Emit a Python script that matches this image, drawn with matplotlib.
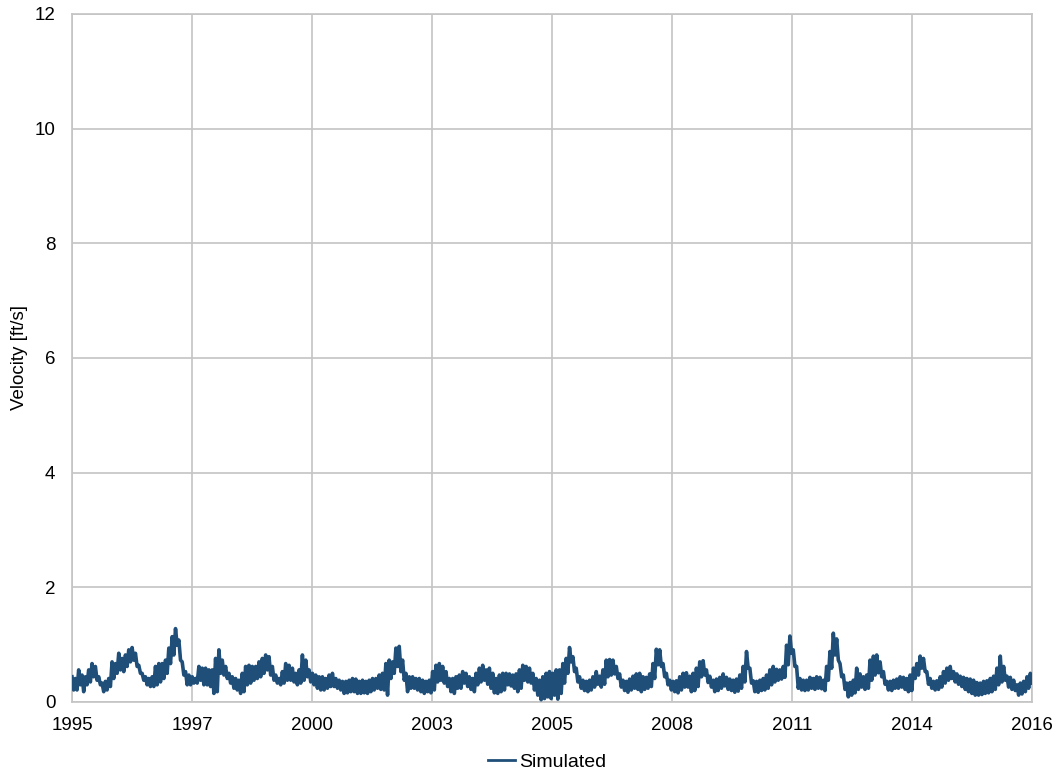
import numpy as np
import matplotlib
matplotlib.use("Agg")
import matplotlib.pyplot as plt

# Simulated velocity [ft/s], regular time steps from 1995 to 2016
velocity = [
    0.44, 0.21, 0.41, 0.21, 0.56, 0.30, 0.47, 0.18, 0.44, 0.30, 0.56, 0.35, 0.67, 0.44, 0.62, 0.38, 0.44, 0.30, 0.33, 0.18,
    0.36, 0.21, 0.41, 0.27, 0.70, 0.41, 0.67, 0.50, 0.85, 0.56, 0.76, 0.53, 0.82, 0.62, 0.91, 0.70, 0.95, 0.73, 0.85, 0.62,
    0.64, 0.50, 0.50, 0.38, 0.44, 0.30, 0.41, 0.27, 0.44, 0.27, 0.62, 0.30, 0.67, 0.35, 0.67, 0.41, 0.73, 0.50, 0.94, 0.67,
    1.14, 0.82, 1.28, 0.99, 1.08, 0.73, 0.70, 0.47, 0.53, 0.30, 0.47, 0.30, 0.44, 0.33, 0.41, 0.33, 0.62, 0.38, 0.59, 0.30,
    0.59, 0.30, 0.56, 0.27, 0.56, 0.15, 0.76, 0.18, 0.91, 0.50, 0.73, 0.47, 0.62, 0.41, 0.50, 0.33, 0.44, 0.24, 0.41, 0.21,
    0.38, 0.15, 0.50, 0.18, 0.62, 0.30, 0.64, 0.33, 0.62, 0.38, 0.62, 0.41, 0.70, 0.44, 0.76, 0.50, 0.82, 0.56, 0.79, 0.47,
    0.62, 0.38, 0.47, 0.33, 0.41, 0.30, 0.53, 0.33, 0.67, 0.38, 0.64, 0.38, 0.59, 0.35, 0.50, 0.30, 0.56, 0.33, 0.82, 0.38,
    0.73, 0.44, 0.56, 0.35, 0.50, 0.30, 0.47, 0.24, 0.44, 0.21, 0.44, 0.21, 0.41, 0.24, 0.47, 0.27, 0.50, 0.27, 0.41, 0.24,
    0.38, 0.21, 0.36, 0.15, 0.36, 0.16, 0.38, 0.18, 0.41, 0.18, 0.40, 0.15, 0.36, 0.15, 0.38, 0.16, 0.36, 0.15, 0.38, 0.18,
    0.41, 0.21, 0.41, 0.24, 0.47, 0.22, 0.50, 0.21, 0.67, 0.12, 0.73, 0.41, 0.70, 0.50, 0.94, 0.62, 0.97, 0.53, 0.73, 0.38,
    0.50, 0.18, 0.44, 0.24, 0.44, 0.24, 0.41, 0.21, 0.41, 0.18, 0.38, 0.15, 0.36, 0.18, 0.38, 0.16, 0.53, 0.21, 0.64, 0.35,
    0.67, 0.38, 0.62, 0.33, 0.53, 0.27, 0.41, 0.18, 0.41, 0.15, 0.44, 0.24, 0.47, 0.24, 0.53, 0.33, 0.50, 0.27, 0.44, 0.22,
    0.41, 0.18, 0.50, 0.30, 0.59, 0.35, 0.64, 0.38, 0.56, 0.31, 0.59, 0.24, 0.50, 0.16, 0.41, 0.15, 0.47, 0.18, 0.50, 0.21,
    0.50, 0.30, 0.49, 0.28, 0.47, 0.24, 0.49, 0.18, 0.56, 0.24, 0.64, 0.38, 0.62, 0.35, 0.59, 0.33, 0.50, 0.21, 0.41, 0.12,
    0.38, 0.04, 0.44, 0.06, 0.50, 0.09, 0.53, 0.06, 0.50, 0.12, 0.56, 0.05, 0.56, 0.15, 0.67, 0.33, 0.76, 0.50, 0.95, 0.70,
    0.79, 0.53, 0.59, 0.35, 0.44, 0.24, 0.38, 0.20, 0.36, 0.18, 0.38, 0.21, 0.44, 0.26, 0.53, 0.31, 0.45, 0.26, 0.56, 0.31,
    0.73, 0.44, 0.74, 0.47, 0.73, 0.49, 0.62, 0.41, 0.49, 0.26, 0.38, 0.20, 0.36, 0.17, 0.40, 0.21, 0.45, 0.24, 0.49, 0.22,
    0.50, 0.18, 0.44, 0.22, 0.43, 0.24, 0.49, 0.27, 0.67, 0.41, 0.92, 0.65, 0.91, 0.62, 0.67, 0.44, 0.50, 0.30, 0.38, 0.21,
    0.36, 0.18, 0.37, 0.16, 0.44, 0.21, 0.50, 0.26, 0.51, 0.26, 0.45, 0.18, 0.50, 0.20, 0.59, 0.27, 0.70, 0.44, 0.72, 0.47,
    0.56, 0.34, 0.45, 0.26, 0.38, 0.18, 0.40, 0.20, 0.43, 0.24, 0.49, 0.28, 0.43, 0.22, 0.40, 0.20, 0.38, 0.17, 0.40, 0.19,
    0.47, 0.24, 0.62, 0.35, 0.88, 0.59, 0.59, 0.33, 0.37, 0.18, 0.36, 0.17, 0.38, 0.20, 0.41, 0.21, 0.47, 0.24, 0.56, 0.30,
    0.62, 0.35, 0.57, 0.38, 0.56, 0.40, 0.62, 0.43, 0.99, 0.65, 1.15, 0.85, 0.91, 0.62, 0.62, 0.24, 0.41, 0.21, 0.38, 0.20,
    0.38, 0.21, 0.43, 0.24, 0.41, 0.22, 0.44, 0.24, 0.43, 0.23, 0.38, 0.20, 0.62, 0.38, 0.88, 0.59, 1.20, 0.82, 1.10, 0.73,
    0.67, 0.44, 0.47, 0.22, 0.33, 0.09, 0.34, 0.12, 0.38, 0.16, 0.59, 0.22, 0.49, 0.26, 0.44, 0.22, 0.47, 0.24, 0.73, 0.38,
    0.80, 0.47, 0.82, 0.51, 0.70, 0.44, 0.53, 0.31, 0.36, 0.21, 0.36, 0.20, 0.38, 0.24, 0.40, 0.24, 0.44, 0.26, 0.43, 0.22,
    0.41, 0.18, 0.47, 0.20, 0.59, 0.41, 0.67, 0.47, 0.80, 0.59, 0.76, 0.53, 0.53, 0.31, 0.41, 0.24, 0.36, 0.21, 0.37, 0.22,
    0.44, 0.26, 0.53, 0.33, 0.59, 0.38, 0.62, 0.41, 0.53, 0.35, 0.49, 0.31, 0.45, 0.27, 0.43, 0.22, 0.41, 0.18, 0.40, 0.15,
    0.38, 0.12, 0.34, 0.12, 0.33, 0.13, 0.36, 0.15, 0.37, 0.16, 0.41, 0.18, 0.45, 0.22, 0.59, 0.30, 0.80, 0.35, 0.62, 0.38,
    0.45, 0.26, 0.43, 0.22, 0.38, 0.20, 0.30, 0.12, 0.33, 0.14, 0.36, 0.18, 0.44, 0.24, 0.50, 0.33,
]

start_year = 1995
end_year = 2016
x_tick_labels = ["1995", "1997", "2000", "2003", "2005", "2008", "2011", "2014", "2016"]
y_ticks = [0, 2, 4, 6, 8, 10, 12]

plt.rcParams['font.family'] = ['Liberation Sans', 'DejaVu Sans']

fig = plt.figure(figsize=(10.6, 7.75), dpi=100)
ax = fig.add_axes([72 / 1060, 1 - 702 / 775, 960 / 1060, 688 / 775])

time = np.linspace(start_year, end_year, len(velocity))
ax.plot(time, velocity, color='#1f4e79', lw=2.6, label='Simulated', zorder=3)

grid_color = '#c4c4c4'
ax.set_xlim(start_year, end_year)
ax.set_ylim(y_ticks[0], y_ticks[-1])
ax.set_xticks(np.linspace(start_year, end_year, len(x_tick_labels)))
ax.set_xticklabels(x_tick_labels)
ax.set_yticks(y_ticks)
ax.grid(True, color=grid_color, lw=1.2, zorder=0)
ax.set_axisbelow(True)
for spine in ax.spines.values():
    spine.set_color(grid_color)
    spine.set_linewidth(1.2)
ax.tick_params(axis='both', length=0, labelsize=13.5, colors='black')
ax.tick_params(axis='x', pad=11)
ax.tick_params(axis='y', pad=12)
ax.set_ylabel('Velocity [ft/s]', fontsize=13.5, labelpad=5)

legend = fig.legend(loc='center', bbox_to_anchor=(547 / 1060, 1 - 762 / 775), frameon=False,
                    fontsize=14, handlelength=1.4, handletextpad=0.2)
for handle in legend.get_lines():
    handle.set_linewidth(2.0)

fig.savefig('out.png', dpi=100)
